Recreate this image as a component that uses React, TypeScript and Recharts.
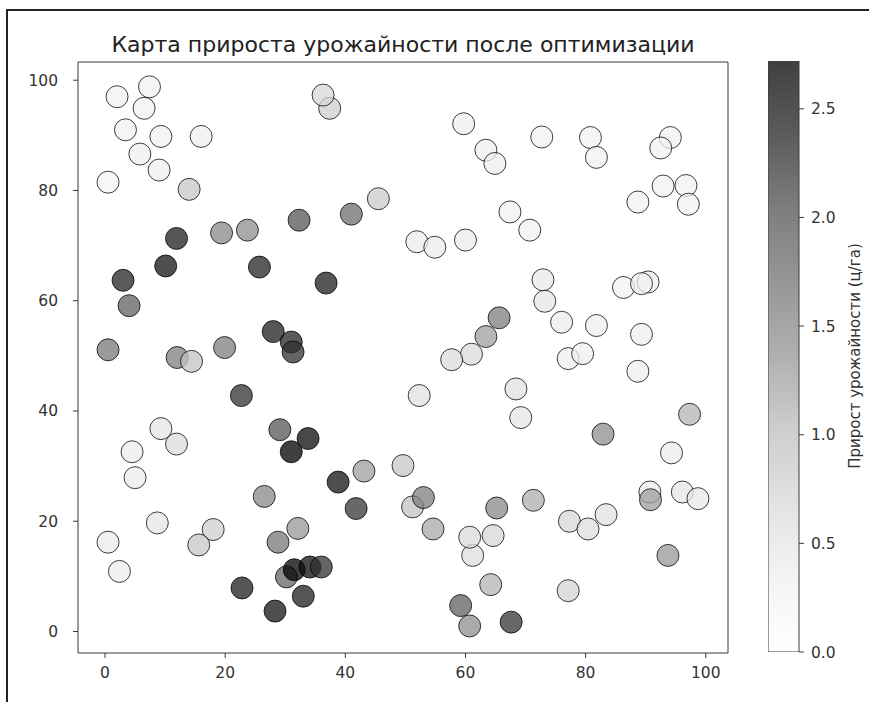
import React from "react";
import {
  ScatterChart,
  Scatter,
  XAxis,
  YAxis,
  ReferenceLine,
  BarChart,
  Bar,
} from "recharts";

// field coordinates and yield gain per plot
const xValues = [
  0.5, 2.0, 7.4, 6.5, 3.4, 9.3, 16.0, 5.8, 9.0, 14.0, 11.9, 19.4, 23.7, 32.3, 37.4, 36.3, 41.0, 45.5,
  59.7, 63.4, 64.9, 72.7, 80.8, 81.8, 94.1, 92.5, 92.9, 96.7, 97.1, 88.7, 67.4, 70.7, 51.9, 54.9, 60.0,
  10.1, 25.7, 3.0, 4.0, 36.8, 0.5, 12.0, 14.4, 19.9, 28.0, 31.0, 31.3, 22.7, 9.3, 11.9, 4.5, 29.1, 31.0,
  33.8, 65.6, 63.4, 61.0, 57.7, 52.3, 72.9, 73.2, 76.0, 81.8, 86.3, 90.4, 89.3, 89.3, 77.1, 79.5, 88.7,
  68.4, 69.2, 97.3, 82.9, 94.3, 5.0, 8.7, 0.5, 2.4, 18.0, 15.6, 26.5, 28.8, 32.1, 22.8, 28.3, 30.2, 31.5,
  34.1, 36.0, 33.0, 38.8, 43.1, 41.8, 49.6, 51.2, 53.0, 54.6, 65.2, 61.2, 60.7, 64.6, 64.2, 59.2, 60.7,
  67.6, 71.3, 77.3, 80.4, 83.4, 90.7, 90.8, 96.1, 98.7, 93.7, 77.1,
];
const yValues = [
  81.5, 97.0, 98.8, 94.9, 91.0, 89.8, 89.8, 86.6, 83.7, 80.2, 71.3, 72.3, 72.8, 74.6, 94.9, 97.3, 75.7, 78.5,
  92.1, 87.3, 84.9, 89.7, 89.6, 86.0, 89.6, 87.7, 80.8, 80.9, 77.5, 77.9, 76.1, 72.8, 70.7, 69.7, 71.0,
  66.3, 66.1, 63.7, 59.1, 63.2, 51.1, 49.7, 49.0, 51.5, 54.4, 52.5, 50.7, 42.8, 36.8, 34.0, 32.6, 36.6, 32.6,
  35.0, 56.9, 53.5, 50.3, 49.3, 42.8, 63.8, 59.9, 56.1, 55.5, 62.4, 63.4, 63.1, 53.9, 49.5, 50.4, 47.2,
  44.0, 38.8, 39.4, 35.8, 32.4, 27.9, 19.7, 16.2, 10.9, 18.5, 15.7, 24.5, 16.2, 18.7, 7.9, 3.7, 9.9, 11.2,
  11.7, 11.7, 6.4, 27.1, 29.1, 22.3, 30.1, 22.6, 24.3, 18.6, 22.4, 13.8, 17.1, 17.4, 8.5, 4.7, 1.0,
  1.7, 23.8, 20.0, 18.6, 21.2, 25.3, 23.9, 25.3, 24.1, 13.8, 7.4,
];
const gainValues = [
  0.25, 0.3, 0.3, 0.3, 0.3, 0.3, 0.35, 0.35, 0.35, 0.9, 2.45, 1.5, 1.45, 2.0, 0.8, 0.7, 1.75, 0.85,
  0.35, 0.35, 0.35, 0.3, 0.3, 0.3, 0.3, 0.3, 0.3, 0.3, 0.3, 0.3, 0.3, 0.3, 0.4, 0.4, 0.4,
  2.55, 2.4, 2.4, 1.9, 2.45, 1.65, 1.6, 0.95, 1.6, 2.45, 2.4, 2.3, 2.3, 0.5, 0.65, 0.4, 2.0, 2.72,
  2.62, 1.6, 1.3, 0.65, 0.65, 0.55, 0.45, 0.5, 0.4, 0.35, 0.3, 0.35, 0.35, 0.35, 0.35, 0.35, 0.35,
  0.55, 0.5, 1.1, 1.45, 0.4, 0.4, 0.5, 0.4, 0.4, 0.8, 0.9, 1.5, 1.65, 1.35, 2.45, 2.55, 1.85, 2.7,
  2.6, 2.3, 2.45, 2.55, 1.3, 2.25, 0.9, 0.95, 1.6, 1.2, 1.5, 0.6, 0.65, 0.7, 1.1, 1.9, 1.45,
  2.25, 1.15, 0.7, 0.6, 0.55, 0.4, 1.3, 0.5, 0.45, 1.35, 0.75,
];

const xTicks = [0, 20, 40, 60, 80, 100];
const yTicks = [0, 20, 40, 60, 80, 100];
const colorbarTicks = [0, 0.5, 1, 1.5, 2, 2.5];

const GAIN_MAX = 2.72;
const X_DOMAIN: [number, number] = [-4.5, 103.7];
const Y_DOMAIN: [number, number] = [-3.9, 103.3];

// matplotlib "Greys"
const GREYS = ["#ffffff", "#f0f0f0", "#d9d9d9", "#bdbdbd", "#969696", "#737373", "#525252", "#252525", "#000000"];

function greyColor(v: number): string {
  const t = Math.min(Math.max(v / GAIN_MAX, 0), 1) * (GREYS.length - 1);
  const i = Math.min(Math.floor(t), GREYS.length - 2);
  const f = t - i;
  const a = parseInt(GREYS[i].slice(1, 3), 16);
  const b = parseInt(GREYS[i + 1].slice(1, 3), 16);
  const c = Math.round(a + (b - a) * f);
  return `rgb(${c},${c},${c})`;
}

const points = xValues.map((x, i) => ({ x, y: yValues[i], gain: gainValues[i] }));
const colorbarData = [{ name: "gain", top: GAIN_MAX }];

const font = "DejaVu Sans, sans-serif";
const axisColor = "#3a3a3a";
const tickStyle = { fontSize: 15.5, fill: "#333", fontFamily: font };

function Dot(props: any) {
  const { cx, cy, payload } = props;
  return (
    <circle
      cx={cx}
      cy={cy}
      r={11}
      fill={greyColor(payload.gain)}
      fillOpacity={0.75}
      stroke="#000"
      strokeOpacity={0.75}
      strokeWidth={1}
    />
  );
}

export default function App() {
  return (
    <div style={{ position: "absolute", left: 0, top: 0, width: 869, height: 702, overflow: "hidden", background: "#fff" }}>
      <div
        style={{
          position: "absolute",
          left: 6,
          top: 9,
          width: 861,
          height: 691,
          borderLeft: "2px solid #222",
          borderTop: "2px solid #222",
        }}
      />
      <div
        style={{
          position: "absolute",
          left: 0,
          top: 32,
          width: 806,
          textAlign: "center",
          fontFamily: font,
          fontSize: 22,
          lineHeight: "26px",
          color: "#222",
        }}
      >
        Карта прироста урожайности после оптимизации
      </div>
      <div style={{ position: "absolute", left: 0, top: 0 }}>
        <ScatterChart width={869} height={702} margin={{ top: 62, right: 141, bottom: 19, left: 38 }}>
          <XAxis
            type="number"
            dataKey="x"
            domain={X_DOMAIN}
            ticks={xTicks}
            allowDataOverflow
            height={30}
            tickSize={5}
            tickMargin={9}
            stroke={axisColor}
            tick={tickStyle}
          />
          <YAxis
            type="number"
            dataKey="y"
            domain={Y_DOMAIN}
            ticks={yTicks}
            allowDataOverflow
            width={40}
            tickSize={5}
            tickMargin={15}
            stroke={axisColor}
            tick={tickStyle}
          />
          <ReferenceLine y={Y_DOMAIN[1]} stroke={axisColor} />
          <ReferenceLine x={X_DOMAIN[1]} stroke={axisColor} />
          <Scatter data={points} shape={<Dot />} isAnimationActive={false} />
        </ScatterChart>
      </div>
      <div style={{ position: "absolute", left: 768, top: 0 }}>
        <BarChart
          width={101}
          height={702}
          data={colorbarData}
          barCategoryGap={0}
          margin={{ top: 61, right: 0, bottom: 50, left: 0 }}
        >
          <defs>
            <linearGradient id="greysBar" x1="0" y1="1" x2="0" y2="0">
              {GREYS.map((c, i) => (
                <stop key={i} offset={i / (GREYS.length - 1)} stopColor={c} stopOpacity={0.75} />
              ))}
            </linearGradient>
          </defs>
          <XAxis dataKey="name" hide />
          <YAxis
            type="number"
            orientation="right"
            domain={[0, GAIN_MAX]}
            ticks={colorbarTicks}
            allowDataOverflow
            width={70}
            axisLine={false}
            tickSize={5}
            tickMargin={7}
            stroke={axisColor}
            tick={tickStyle}
            tickFormatter={(v: number) => v.toFixed(1)}
            label={{
              content: () => (
                <text
                  x={87}
                  y={356}
                  transform="rotate(-90 87 356)"
                  textAnchor="middle"
                  dominantBaseline="central"
                  fontFamily={font}
                  fontSize={15}
                  fill="#333"
                >
                  Прирост урожайности (ц/га)
                </text>
              ),
            }}
          />
          <Bar
            dataKey="top"
            fill="url(#greysBar)"
            stroke={axisColor}
            strokeWidth={1}
            isAnimationActive={false}
          />
        </BarChart>
      </div>
    </div>
  );
}
